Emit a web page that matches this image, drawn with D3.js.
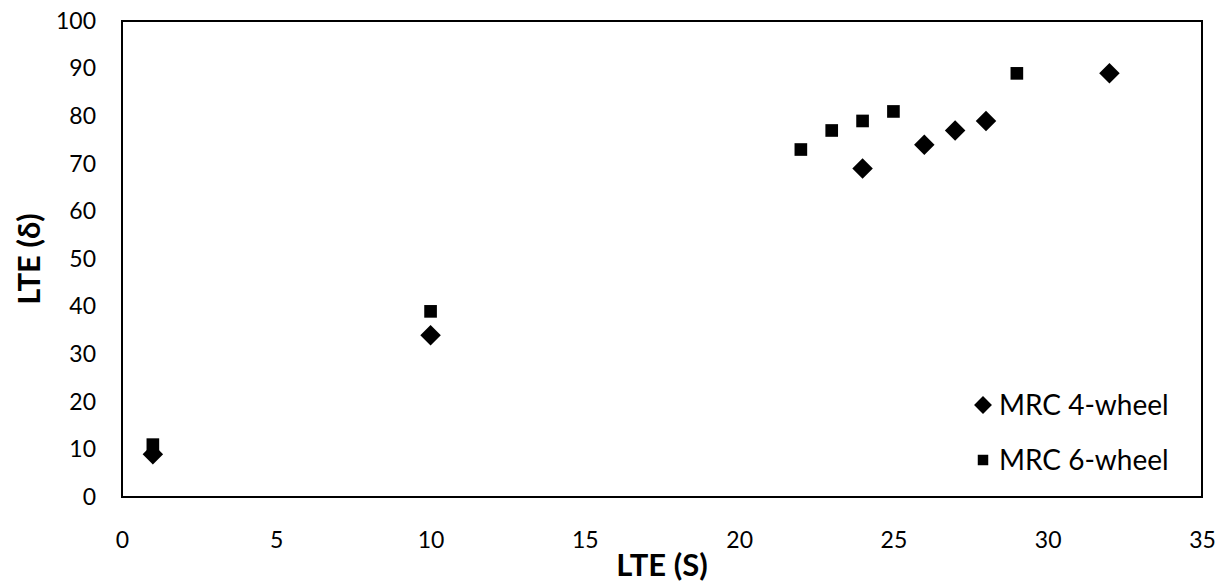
<!DOCTYPE html>
<html>
<head>
<meta charset="utf-8">
<script src="https://cdn.jsdelivr.net/npm/d3@7"></script>
<style>
  body { margin: 0; background: #fff; }
  svg { font-family: Lato, "Open Sans", sans-serif; }
</style>
</head>
<body>
<svg id="chart" width="1227" height="583"></svg>
<script>
const xTicks = [0, 5, 10, 15, 20, 25, 30, 35];
const yTicks = [0, 10, 20, 30, 40, 50, 60, 70, 80, 90, 100];

// MRC 4-wheel (diamonds)
const fourWheelX = [1, 10, 24, 26, 27, 28, 32];
const fourWheelY = [9, 34, 69, 74, 77, 79, 89];

// MRC 6-wheel (squares)
const sixWheelX = [1, 10, 22, 23, 24, 25, 29];
const sixWheelY = [11, 39, 73, 77, 79, 81, 89];

const seriesNames = ["MRC 4-wheel", "MRC 6-wheel"];

const svg = d3.select("#chart");
const margin = { top: 21, right: 25, bottom: 86, left: 122 };
const width = 1227 - margin.left - margin.right;
const height = 583 - margin.top - margin.bottom;

const x = d3.scaleLinear().domain([0, 35]).range([0, width]);
const y = d3.scaleLinear().domain([0, 100]).range([height, 0]);

const g = svg.append("g").attr("transform", `translate(${margin.left},${margin.top})`);

// x tick labels
g.append("g")
  .attr("transform", `translate(0,${height})`)
  .call(d3.axisBottom(x).tickValues(xTicks).tickSize(0).tickPadding(35))
  .call((a) => a.select(".domain").remove())
  .selectAll("text")
  .attr("font-family", "Lato")
  .attr("font-size", 23)
  .attr("fill", "#000");

// y tick labels
g.append("g")
  .call(d3.axisLeft(y).tickValues(yTicks).tickSize(0).tickPadding(26))
  .call((a) => a.select(".domain").remove())
  .selectAll("text")
  .attr("font-family", "Lato")
  .attr("font-size", 23)
  .attr("fill", "#000");

// plot border
g.append("rect")
  .attr("width", width)
  .attr("height", height)
  .attr("fill", "none")
  .attr("stroke", "#000")
  .attr("stroke-width", 2);

const diamond = d3.symbol().type(d3.symbolSquare).size(210);
const square = d3.symbol().type(d3.symbolSquare).size(160);

const fourWheel = fourWheelX.map((v, i) => ({ x: v, y: fourWheelY[i] }));
const sixWheel = sixWheelX.map((v, i) => ({ x: v, y: sixWheelY[i] }));

g.selectAll(".six")
  .data(sixWheel)
  .join("path")
  .attr("class", "six")
  .attr("d", square)
  .attr("transform", (d) => `translate(${x(d.x)},${y(d.y)})`)
  .attr("fill", "#000");

g.selectAll(".four")
  .data(fourWheel)
  .join("path")
  .attr("class", "four")
  .attr("d", diamond)
  .attr("transform", (d) => `translate(${x(d.x)},${y(d.y)}) rotate(45)`)
  .attr("fill", "#000");

// axis titles
svg.append("text")
  .attr("x", margin.left + width / 2)
  .attr("y", 576)
  .attr("text-anchor", "middle")
  .attr("font-size", 31)
  .attr("font-weight", "bold")
  .text("LTE (S)");

svg.append("text")
  .attr("transform", `translate(40,${margin.top + height / 2}) rotate(-90)`)
  .attr("text-anchor", "middle")
  .attr("font-size", 31)
  .attr("font-weight", "bold")
  .text("LTE (δ)");

// legend
const legend = g.append("g").attr("transform", `translate(${width - 219},${height - 92})`);
seriesNames.forEach((name, i) => {
  const row = legend.append("g").attr("transform", `translate(0,${i * 55})`);
  row.append("path")
    .attr("d", i === 0 ? d3.symbol().type(d3.symbolSquare).size(160)() : d3.symbol().type(d3.symbolSquare).size(110)())
    .attr("transform", i === 0 ? "rotate(45)" : null)
    .attr("fill", "#000");
  row.append("text")
    .attr("x", 16)
    .attr("dy", "0.35em")
    .attr("font-size", 28)
    .text(name);
});
</script>
</body>
</html>
